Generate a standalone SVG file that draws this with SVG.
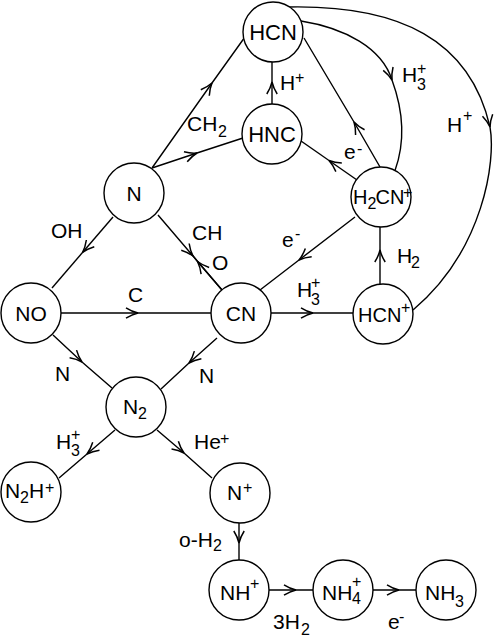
<svg xmlns="http://www.w3.org/2000/svg" width="496" height="637" viewBox="0 0 496 637">
<style>
.n{fill:#fff;stroke:#000;stroke-width:1.4}
.e{fill:none;stroke:#000;stroke-width:1.4;marker-mid:url(#a)}
text{font-family:"Liberation Sans",Arial,sans-serif;font-size:21px;fill:#000}
.b{font-size:22px}
.m{font-size:20px}
.s{font-size:16px}
.c{text-anchor:middle}
</style>
<defs>
<marker id="a" markerUnits="userSpaceOnUse" orient="auto" overflow="visible" markerWidth="1" markerHeight="1" refX="0" refY="0">
<path d="M-12,-5.2 Q-6,-1.4 0,0 Q-6,1.4 -12,5.2" fill="none" stroke="#000" stroke-width="1.5"/>
</marker>
</defs>
<rect width="496" height="637" fill="#fff"/>
<g id="connectors">
<path class="e" d="M152,168 L212,83 L243.5,39"/>
<path class="e" d="M152,168 L197,153 L243,138"/>
<path class="e" d="M272,104 L272,82 L272,62"/>
<path class="e" d="M357,180 L329,160.5 L301,141"/>
<path class="e" d="M380,167 L354,122 L304,38"/>
<path class="e" d="M301,21 C345,28 382,48 392,80 C403,110 406,140 395,170.5"/>
<path class="e" d="M289,7 C400,5 470,40 490,127 C496,160 484,250 413,310"/>
<path class="e" d="M113,217 L82.5,252.5 L52,288"/>
<path class="e" d="M158,215 L193,256 L222,290"/>
<path class="e" d="M222,290 L197.5,261.5 L190,252"/>
<path class="e" d="M61,313 L138,313 L211,313"/>
<path class="e" d="M271,313 L313,313 L353,313"/>
<path class="e" d="M380,284 L380,250 L380,227"/>
<path class="e" d="M355,217 L299,260 L260,290"/>
<path class="e" d="M53,335 L82,362 L112,388"/>
<path class="e" d="M217,338 L189,363 L161,389"/>
<path class="e" d="M115,430 L87,454 L59,478"/>
<path class="e" d="M157,430 L184,453 L212,478"/>
<path class="e" d="M239,523 L239,543 L239,560"/>
<path class="e" d="M269,590 L296,590 L313,590"/>
<path class="e" d="M373,590 L399,590 L416,590"/>
</g>
<g id="edge-labels">
<text x="187" y="131">CH</text><text class="s" x="218" y="137">2</text>
<text x="280" y="90">H</text><text class="s" x="295" y="83">+</text>
<text x="344" y="159">e</text><text class="s" x="357" y="154">-</text>
<text x="402" y="82">H</text><text class="s" x="417" y="90">3</text><text class="s" x="417" y="74">+</text>
<text x="447" y="132">H</text><text class="s" x="463" y="121">+</text>
<text x="51" y="238">OH</text>
<text x="192" y="240">CH</text>
<text x="212" y="270">O</text>
<text x="128" y="302">C</text>
<text x="282" y="247">e</text><text class="s" x="295" y="239">-</text>
<text x="397" y="263">H</text><text class="s" x="411" y="268">2</text>
<text x="297" y="297">H</text><text class="s" x="311" y="305">3</text><text class="s" x="311" y="288">+</text>
<text x="55" y="381">N</text>
<text x="199" y="383">N</text>
<text x="56" y="449">H</text><text class="s" x="71" y="456">3</text><text class="s" x="71" y="440">+</text>
<text x="194" y="449">He</text><text class="s" x="220" y="444">+</text>
<text x="179" y="547">o-H</text><text class="s" x="213" y="551">2</text>
<text x="273" y="629">3H</text><text class="s" x="301" y="635">2</text>
<text x="388" y="629">e</text><text class="s" x="399" y="622">-</text>
</g>
<g id="HCN"><circle class="n" cx="273" cy="32" r="30"/><text class="b c" x="273" y="40">HCN</text></g>
<g id="HNC"><circle class="n" cx="272" cy="134" r="30"/><text class="b c" x="272" y="142">HNC</text></g>
<g id="N"><circle class="n" cx="134" cy="193" r="30"/><text class="c" x="134" y="201">N</text></g>
<g id="NO"><circle class="n" cx="31" cy="313" r="30"/><text class="c" x="31" y="321">NO</text></g>
<g id="CN"><circle class="n" cx="241" cy="313" r="30"/><text class="c" x="241" y="321">CN</text></g>
<g id="H2CN+"><circle class="n" cx="381" cy="197" r="30"/><text class="m" x="353" y="204">H</text><text class="s" x="367.5" y="209">2</text><text class="m" x="375.5" y="204">CN</text><text class="s" x="403" y="198">+</text></g>
<g id="HCN+"><circle class="n" cx="383" cy="314" r="30"/><text class="m" x="358" y="322">HCN</text><text class="s" x="401" y="313">+</text></g>
<g id="N2"><circle class="n" cx="136" cy="407" r="30"/><text x="123" y="414">N</text><text class="s" x="138" y="419">2</text></g>
<g id="N2H+"><circle class="n" cx="31" cy="492" r="30"/><text x="5" y="498">N</text><text class="s" x="20" y="503">2</text><text x="29" y="498">H</text><text class="s" x="45" y="493">+</text></g>
<g id="N+"><circle class="n" cx="240" cy="493" r="30"/><text x="227" y="500">N</text><text class="s" x="243" y="493">+</text></g>
<g id="NH+"><circle class="n" cx="239" cy="590" r="30"/><text x="220" y="600">NH</text><text class="s" x="250" y="589">+</text></g>
<g id="NH4+"><circle class="n" cx="343" cy="590" r="30"/><text x="322" y="600">NH</text><text class="s" x="352" y="604">4</text><text class="s" x="352" y="587">+</text></g>
<g id="NH3"><circle class="n" cx="446" cy="590" r="30"/><text x="425" y="600">NH</text><text class="s" x="455" y="607">3</text></g>
</svg>
